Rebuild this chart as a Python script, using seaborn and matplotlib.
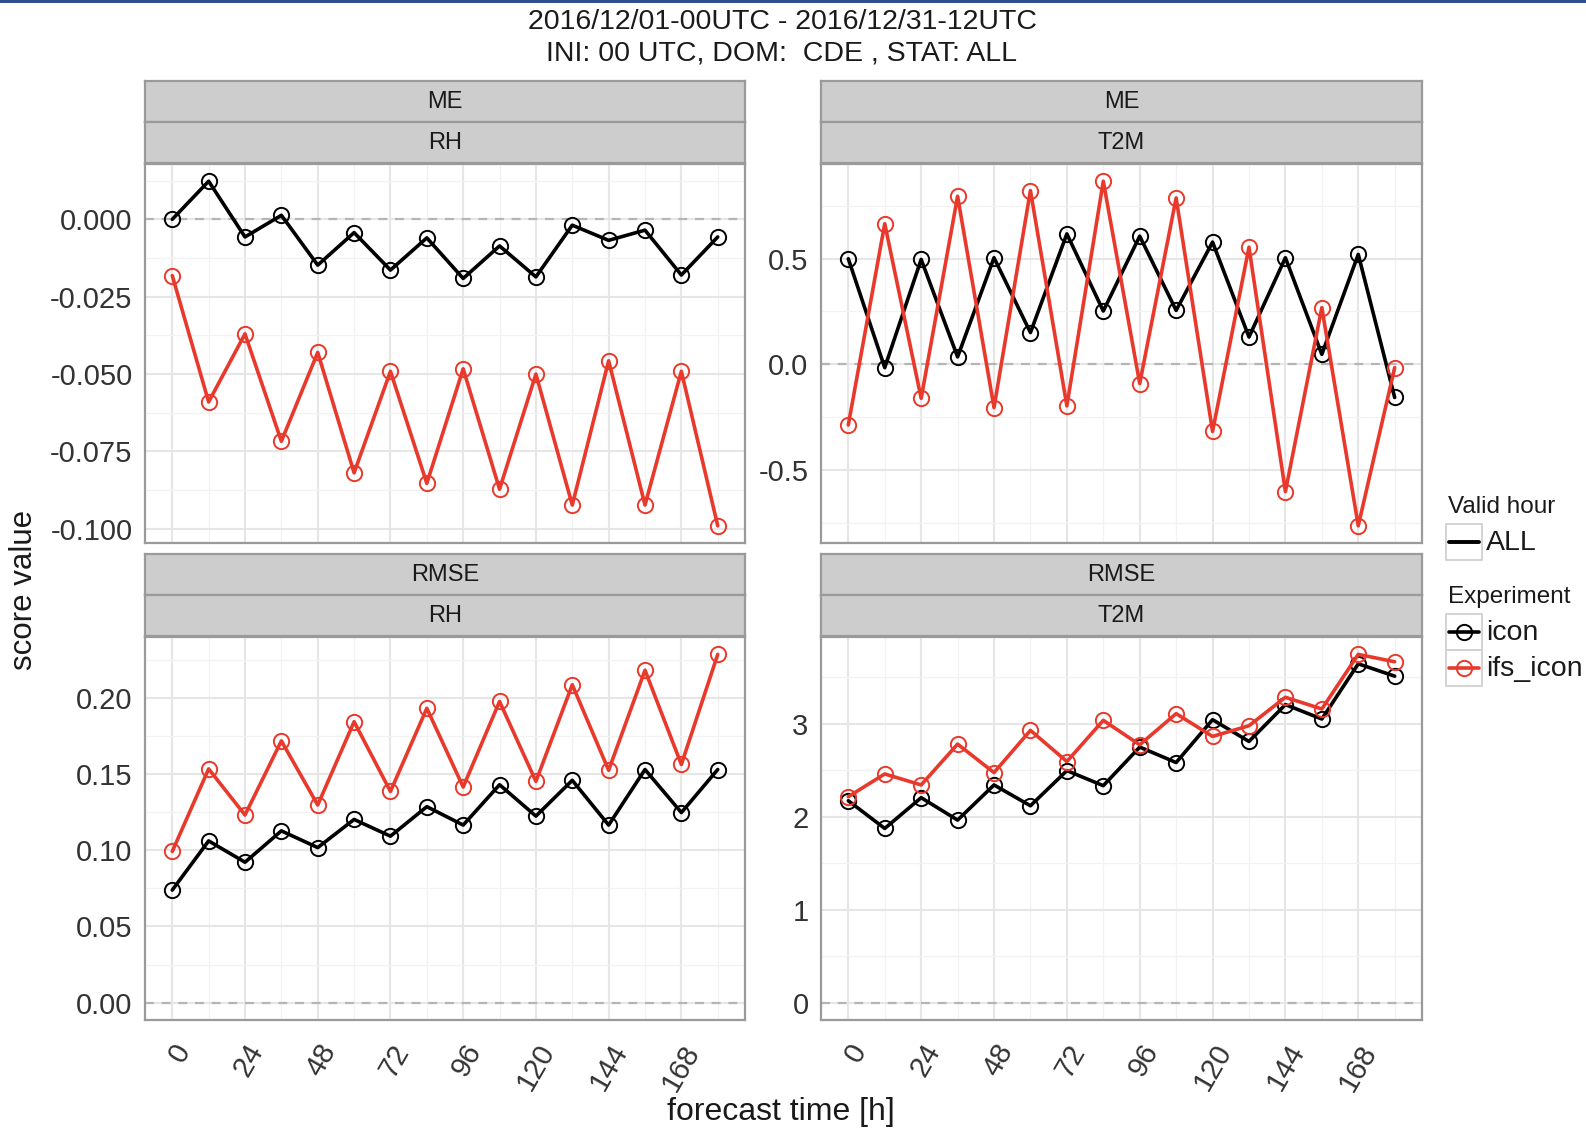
import numpy as np
import pandas as pd
import matplotlib
matplotlib.use("Agg")
import matplotlib.pyplot as plt
import seaborn as sns
from matplotlib.patches import Rectangle
from matplotlib.lines import Line2D
from matplotlib.ticker import MultipleLocator

# ---------------- data ----------------
lead_hours = [0, 12, 24, 36, 48, 60, 72, 84, 96, 108, 120, 132, 144, 156, 168, 180]
experiments = ["icon", "ifs_icon"]

me_rh_icon = [0.000, 0.0123, -0.0057, 0.0013, -0.0148, -0.0043, -0.0164, -0.0060,
              -0.0191, -0.0086, -0.0186, -0.0019, -0.0068, -0.0035, -0.0180, -0.0057]
me_rh_ifs = [-0.0182, -0.0590, -0.0370, -0.0717, -0.0430, -0.0819, -0.0491, -0.0853,
             -0.0483, -0.0872, -0.0500, -0.0923, -0.0457, -0.0923, -0.0491, -0.0990]

me_t2m_icon = [0.499, -0.016, 0.496, 0.035, 0.504, 0.150, 0.617, 0.252,
               0.606, 0.255, 0.578, 0.129, 0.504, 0.047, 0.520, -0.157]
me_t2m_ifs = [-0.287, 0.665, -0.161, 0.795, -0.205, 0.822, -0.197, 0.866,
              -0.091, 0.787, -0.318, 0.554, -0.602, 0.268, -0.764, -0.016]

rmse_rh_icon = [0.0739, 0.1062, 0.0922, 0.1128, 0.1018, 0.1203, 0.1093, 0.1287,
                0.1166, 0.1431, 0.1225, 0.1460, 0.1166, 0.1531, 0.1248, 0.1531]
rmse_rh_ifs = [0.0993, 0.1535, 0.1232, 0.1719, 0.1298, 0.1845, 0.1387, 0.1933,
               0.1416, 0.1978, 0.1453, 0.2088, 0.1526, 0.2183, 0.1564, 0.2287]

rmse_t2m_icon = [2.171, 1.873, 2.204, 1.963, 2.341, 2.117, 2.495, 2.333,
                 2.748, 2.582, 3.043, 2.809, 3.205, 3.050, 3.644, 3.511]
rmse_t2m_ifs = [2.215, 2.459, 2.341, 2.780, 2.474, 2.928, 2.593, 3.036,
                2.773, 3.108, 2.863, 2.978, 3.284, 3.158, 3.745, 3.666]

x_ticks = [0, 24, 48, 72, 96, 120, 144, 168]
y_ticks_me_rh = [0.000, -0.025, -0.050, -0.075, -0.100]
y_ticks_me_t2m = [0.5, 0.0, -0.5]
y_ticks_rmse_rh = [0.20, 0.15, 0.10, 0.05, 0.00]
y_ticks_rmse_t2m = [3, 2, 1, 0]

title_lines = ["2016/12/01-00UTC - 2016/12/31-12UTC",
               "INI: 00 UTC, DOM:  CDE , STAT: ALL"]

rows = []
for score, var, icon_v, ifs_v in [("ME", "RH", me_rh_icon, me_rh_ifs),
                                  ("ME", "T2M", me_t2m_icon, me_t2m_ifs),
                                  ("RMSE", "RH", rmse_rh_icon, rmse_rh_ifs),
                                  ("RMSE", "T2M", rmse_t2m_icon, rmse_t2m_ifs)]:
    for exp, vals in zip(experiments, [icon_v, ifs_v]):
        for h, v in zip(lead_hours, vals):
            rows.append(dict(score=score, variable=var, experiment=exp, lead=h, value=v))
df = pd.DataFrame(rows)

# ---------------- style ----------------
sns.set_style("white")
plt.rcParams["font.family"] = ["Liberation Sans", "DejaVu Sans"]
plt.rcParams["axes.unicode_minus"] = False

W, H = 1586, 1130
fig = plt.figure(figsize=(W / 100, H / 100), dpi=100)
fig.patch.set_facecolor("white")


def fbox(x0, y0, x1, y1):
    return [x0 / W, 1 - y1 / H, (x1 - x0) / W, (y1 - y0) / H]


def fx(x):
    return x / W


def fy(y):
    return 1 - y / H


colors = {"icon": "#000000", "ifs_icon": "#E8392C"}
BORDER = "#9a9a9a"
LW = 2.6
MS = 11
MEW = 1.4

panels = [
    ("ME", "RH", (145, 81, 745, 543), y_ticks_me_rh, "{:.3f}", 0.0125),
    ("ME", "T2M", (821, 81, 1422, 543), y_ticks_me_t2m, "{:.1f}", 0.25),
    ("RMSE", "RH", (145, 554, 745, 1020), y_ticks_rmse_rh, "{:.2f}", 0.025),
    ("RMSE", "T2M", (821, 554, 1422, 1020), y_ticks_rmse_t2m, "{:.0f}", 0.5),
]

for score, var, (x0, y0, x1, y1), yt, fmt, yminor in panels:
    strip_h = 41
    py0 = y0 + 2 * strip_h + 1
    ax = fig.add_axes(fbox(x0, py0, x1, y1))
    sub = df[(df.score == score) & (df.variable == var)]
    for exp in experiments:
        d = sub[sub.experiment == exp]
        sns.lineplot(data=d, x="lead", y="value", color=colors[exp], ax=ax,
                     linewidth=LW, marker="o", markersize=MS, markerfacecolor="none",
                     markeredgecolor=colors[exp], markeredgewidth=MEW, zorder=3,
                     legend=False)
    ax.axhline(0, color="#b5b5b5", lw=1.6, ls=(0, (4, 3.5)), zorder=1)
    vmin = min(sub.value.min(), 0)
    vmax = max(sub.value.max(), 0)
    pad = 0.05 * (vmax - vmin)
    ax.set_ylim(vmin - pad, vmax + pad)
    ax.set_xlim(-9, 189)
    ax.set_xticks(x_ticks)
    ax.set_xticklabels([str(t) for t in x_ticks], rotation=60, ha="right",
                       va="top", rotation_mode="anchor")
    ax.xaxis.set_minor_locator(MultipleLocator(12))
    ax.set_yticks(yt)
    ax.set_yticklabels([fmt.format(t) for t in yt])
    ax.yaxis.set_minor_locator(MultipleLocator(yminor))
    ax.set_xlabel("")
    ax.set_ylabel("")
    ax.grid(which="major", color="#e6e6e6", lw=1.5)
    ax.grid(which="minor", color="#f2f2f2", lw=0.9)
    ax.set_axisbelow(True)
    for sp in ax.spines.values():
        sp.set_color(BORDER)
        sp.set_linewidth(1.6)
    ax.tick_params(which="major", direction="out", length=5, width=1.6,
                   color="#333333", labelsize=21, labelcolor="#333333", pad=4)
    ax.tick_params(which="minor", length=0)
    ax.tick_params(axis="x", pad=9)

    # facet strips
    for i, lab in enumerate([score, var]):
        sy0 = y0 + i * strip_h
        sax = fig.add_axes(fbox(x0, sy0, x1, sy0 + strip_h))
        sax.set_facecolor("#cdcdcd")
        sax.set_xticks([])
        sax.set_yticks([])
        for sp in sax.spines.values():
            sp.set_color(BORDER)
            sp.set_linewidth(1.6)
        sax.text(0.5, 0.48, lab, ha="center", va="center", fontsize=17,
                 color="#1a1a1a", transform=sax.transAxes)

# titles and axis labels
fig.text(fx(782), fy(22), title_lines[0], ha="center", va="center", fontsize=20.5, color="#1a1a1a")
fig.text(fx(782), fy(53), title_lines[1], ha="center", va="center", fontsize=20.5, color="#1a1a1a")
fig.text(fx(24), fy(590), "score value", rotation=90, ha="center", va="center",
         fontsize=22.5, color="#1a1a1a")
fig.text(fx(781), fy(1112), "forecast time [h]", ha="center", va="center",
         fontsize=23, color="#1a1a1a")

# legend (drawn in figure coordinates)
def key_box(ytop):
    fig.add_artist(Rectangle((fx(1446), fy(ytop + 36)), 36 / W, 36 / H,
                             transform=fig.transFigure, facecolor="white",
                             edgecolor="#d0d0d0", lw=1.3))

fig.text(fx(1448), fy(507), "Valid hour", ha="left", va="center", fontsize=17.5, color="#1a1a1a")
key_box(524)
fig.add_artist(Line2D([fx(1449), fx(1479)], [fy(542), fy(542)], transform=fig.transFigure,
                      color="black", lw=2.8))
fig.text(fx(1486), fy(543), "ALL", ha="left", va="center", fontsize=20.5, color="#1a1a1a")

fig.text(fx(1448), fy(597), "Experiment", ha="left", va="center", fontsize=17.5, color="#1a1a1a")
for exp, ytop in zip(experiments, [614, 650]):
    key_box(ytop)
    yc = ytop + 18
    fig.add_artist(Line2D([fx(1449), fx(1479)], [fy(yc), fy(yc)], transform=fig.transFigure,
                          color=colors[exp], lw=LW))
    fig.add_artist(Line2D([fx(1464)], [fy(yc)], transform=fig.transFigure,
                          color=colors[exp], lw=0, marker="o", markersize=MS,
                          markerfacecolor="none", markeredgewidth=MEW))
    fig.text(fx(1486), fy(yc + 1), exp, ha="left", va="center", fontsize=20.5, color="#1a1a1a")

# screenshot frame line at the very top
fig.add_artist(Rectangle((0, fy(3)), 1, 3 / H, transform=fig.transFigure,
                         facecolor="#2f4f8f", edgecolor="none"))

fig.savefig("out.png", dpi=100, facecolor="white")
